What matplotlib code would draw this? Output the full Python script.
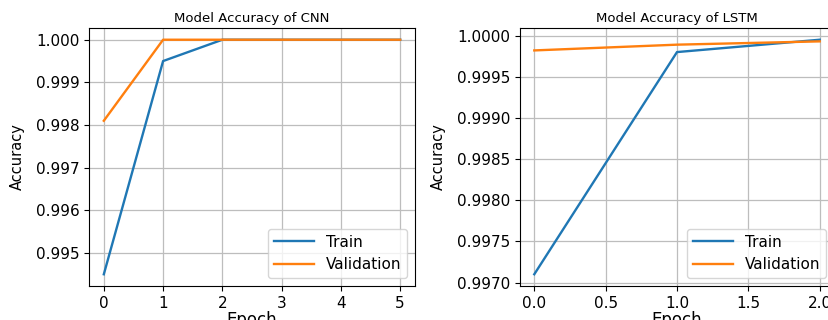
import matplotlib
matplotlib.use("Agg")
import matplotlib.pyplot as plt

cnn_epochs = [0, 1, 2, 3, 4, 5]
cnn_train = [0.9945, 0.9995, 1.0, 1.0, 1.0, 1.0]
cnn_val = [0.9981, 1.0, 1.0, 1.0, 1.0, 1.0]

lstm_epochs = [0, 1, 2]
lstm_train = [0.9971, 0.9998, 0.99995]
lstm_val = [0.99982, 0.99989, 0.99993]

fig = plt.figure(figsize=(8.29, 3.2), dpi=100)
ax1 = fig.add_axes([89/829, 1-286/320, 326/829, 258/320])
ax2 = fig.add_axes([520/829, 1-286/320, 314/829, 258/320])

for ax, ep, tr, va, title in [
    (ax1, cnn_epochs, cnn_train, cnn_val, "Model Accuracy of CNN"),
    (ax2, lstm_epochs, lstm_train, lstm_val, "Model Accuracy of LSTM"),
]:
    ax.plot(ep, tr, color="#1f77b4", lw=1.7, label="Train")
    ax.plot(ep, va, color="#ff7f0e", lw=1.7, label="Validation")
    ax.set_title(title, fontsize=9.5, pad=4)
    ax.set_xlabel("Epoch", fontsize=12, labelpad=0)
    ax.set_ylabel("Accuracy", fontsize=10.5, labelpad=8)
    ax.tick_params(labelsize=11)
    ax.grid(True, color="#bdbdbd", lw=0.9)
    ax.legend(loc="lower right", fontsize=11, handlelength=2.6)

fig.savefig("out.png", dpi=100)
